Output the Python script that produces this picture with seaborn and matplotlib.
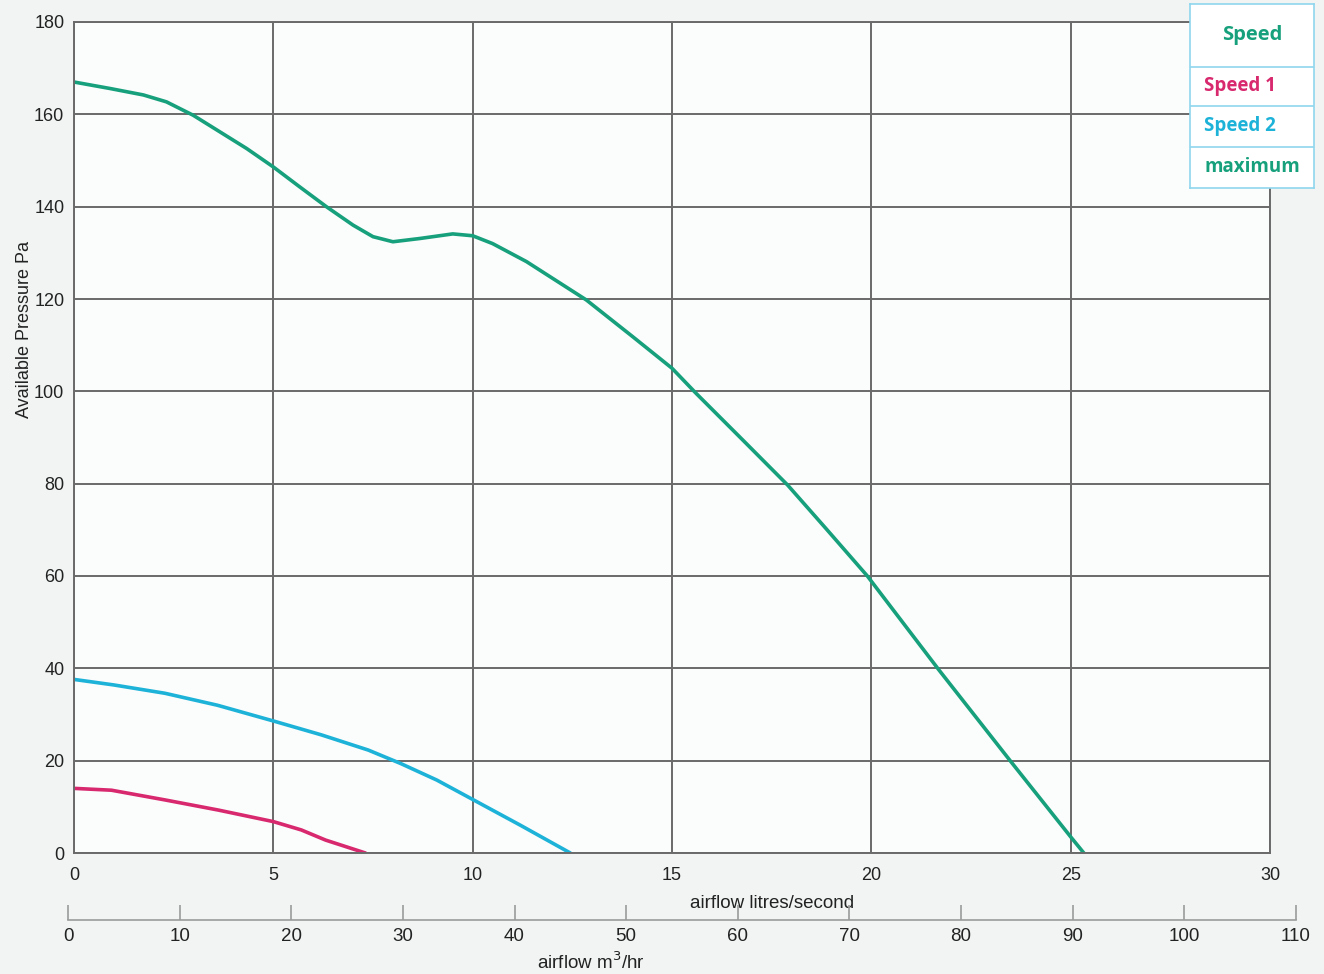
import matplotlib
matplotlib.use('Agg')
import matplotlib.pyplot as plt
import numpy as np
import pandas as pd
import seaborn as sns

# values (airflow l/s, pressure Pa)
max_flow = [0, 0.9, 1.74, 2.32, 2.99, 3.66, 4.33, 5.0, 5.66, 6.33, 7.0, 7.5, 8.0,
            8.67, 9.5, 10.0, 10.5, 11.35, 12.85, 14.02, 15.0, 15.6, 16.77, 17.9,
            18.86, 19.9, 21.7, 23.5, 25.0, 25.33]
max_pres = [167.0, 165.6, 164.2, 162.7, 159.8, 156.2, 152.6, 148.6, 144.3, 140.0, 136.0,
            133.5, 132.4, 133.1, 134.1, 133.7, 132.0, 128.1, 119.8, 111.8, 105.0, 99.6,
            89.5, 79.7, 70.3, 60.0, 39.6, 19.8, 3.5, 0]
s2_flow = [0, 1.0, 2.28, 3.6, 5.0, 6.2, 7.38, 8.19, 9.1, 10.0, 11.2, 12.45]
s2_pres = [37.6, 36.4, 34.6, 32.0, 28.6, 25.6, 22.3, 19.4, 15.8, 11.6, 6.0, 0]
s1_flow = [0, 0.94, 2.28, 3.62, 5.0, 5.7, 6.31, 7.31]
s1_pres = [14.0, 13.6, 11.5, 9.3, 6.8, 5.0, 2.8, 0]

series_names = ['Speed 1', 'Speed 2', 'maximum']
series_colors = ['#d8286e', '#1db2d8', '#17a07c']
legend_title = 'Speed'

x_ticks = [0, 5, 10, 15, 20, 25, 30]
y_ticks = [0, 20, 40, 60, 80, 100, 120, 140, 160, 180]
m3_ticks = [0, 10, 20, 30, 40, 50, 60, 70, 80, 90, 100, 110]

df = pd.concat([
    pd.DataFrame({'flow': s1_flow, 'pressure': s1_pres, 'speed': 'Speed 1'}),
    pd.DataFrame({'flow': s2_flow, 'pressure': s2_pres, 'speed': 'Speed 2'}),
    pd.DataFrame({'flow': max_flow, 'pressure': max_pres, 'speed': 'maximum'}),
])

sns.set_theme(style='white')
plt.rcParams['font.family'] = ['Liberation Sans Narrow', 'Liberation Sans', 'DejaVu Sans']

W, H = 1324, 974
fig = plt.figure(figsize=(W / 100, H / 100), dpi=100, facecolor='#f2f4f4')

def fx(px):
    return px / W

def fy(py):
    return 1 - py / H

ax = fig.add_axes([fx(74), fy(853), fx(1270) - fx(74), fy(22) - fy(853)])
ax.set_facecolor('#fbfcfc')

sns.lineplot(data=df, x='flow', y='pressure', hue='speed', hue_order=series_names,
             palette=series_colors, sort=False, estimator=None, lw=2.6, ax=ax, legend=False)
for ln in ax.lines:
    ln.set_solid_joinstyle('round')
    ln.set_solid_capstyle('round')

ax.set_xlim(0, 30)
ax.set_ylim(0, 180)
ax.set_xticks(x_ticks)
ax.set_yticks(y_ticks)
for v in x_ticks:
    ax.axvline(v, color='#6a6a6a', lw=1.4, zorder=0)
for v in y_ticks:
    ax.axhline(v, color='#6a6a6a', lw=1.4, zorder=0)
for sp in ax.spines.values():
    sp.set_color('#6a6a6a')
    sp.set_linewidth(1.4)
ax.tick_params(axis='both', length=0, labelsize=13, colors='#222222')
ax.tick_params(axis='x', pad=10)
ax.tick_params(axis='y', pad=7)
ax.set_xlabel('airflow litres/second', fontsize=13.5, color='#222222')
ax.xaxis.set_label_coords(0.584, -0.05)
ax.set_ylabel('Available Pressure Pa', fontsize=13, color='#222222')
ax.yaxis.set_label_coords(-0.034, 0.63)

# secondary scale in m3/hr
ax2 = fig.add_axes([fx(68), fy(920), fx(1296) - fx(68), 0.001])
ax2.set_facecolor('none')
ax2.set_xlim(0, 110)
ax2.set_xticks(m3_ticks)
ax2.set_yticks([])
for k in ['top', 'left', 'right']:
    ax2.spines[k].set_visible(False)
ax2.spines['bottom'].set_color('#9a9a9a')
ax2.spines['bottom'].set_linewidth(1.2)
ax2.tick_params(axis='x', bottom=True, direction='in', length=11, width=1.2, color='#9a9a9a',
                labelsize=13.5, labelcolor='#222222', pad=6)
fig.text(fx(591), fy(962), 'airflow m$^3$/hr', ha='center', va='center', fontsize=13.5, color='#222222')

# legend table
lax = fig.add_axes([fx(1190), fy(188), fx(1314) - fx(1190), fy(4) - fy(188)])
lax.set_facecolor('white')
lax.set_xlim(0, 124)
lax.set_ylim(188, 4)
lax.set_xticks([])
lax.set_yticks([])
for sp in lax.spines.values():
    sp.set_color('#8fd6ee')
    sp.set_linewidth(1.2)
for yb in [67, 106, 147]:
    lax.axhline(yb, color='#8fd6ee', lw=1.2)
lax.text(62, 35, legend_title, ha='center', va='center', fontsize=14.5, fontweight='bold',
         color=series_colors[2], family=['Open Sans', 'DejaVu Sans'])
for name, col, yc in zip(series_names, series_colors, [86, 126, 167]):
    lax.text(14, yc, name, ha='left', va='center', fontsize=13.5, fontweight='bold',
             color=col, family=['Open Sans', 'DejaVu Sans'])

fig.savefig('out.png', dpi=100, facecolor=fig.get_facecolor())
